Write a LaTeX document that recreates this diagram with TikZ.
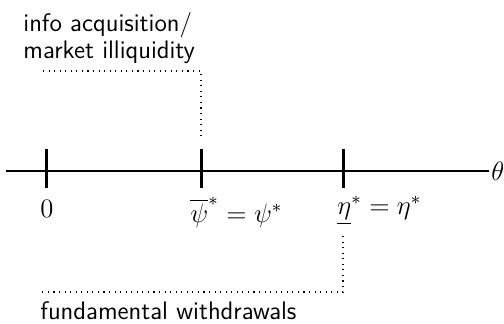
\documentclass[tikz,border=0pt]{standalone}
\usepackage{amsmath}
\begin{document}
\begin{tikzpicture}[x=0.45pt,y=-0.45pt,
  axisline/.style={line width=0.95pt},
  tickmark/.style={line width=1.35pt},
  guide/.style={dotted, line width=0.5pt},
  lbl/.style={font=\fontsize{11.4}{12.2}\selectfont\sffamily, inner sep=0pt, anchor=north west, align=left},
  ticklbl/.style={font=\fontsize{11.8}{14}\selectfont, inner sep=0pt, anchor=north west}]
\useasboundingbox (0,0) rectangle (504,323);
% axis
\coordinate (a0) at (6,171);
\coordinate (a1) at (489,171);
\draw[axisline] (a0) -- (a1) node[right, inner sep=0.6pt, font=\fontsize{11.8}{14}\selectfont] (theta) {$\theta$};
% ticks
\coordinate (t0top) at (46,149); \coordinate (t0bot) at (46,188);
\coordinate (t1top) at (201,149); \coordinate (t1bot) at (201,188);
\coordinate (t2top) at (343,149); \coordinate (t2bot) at (343,188);
\draw[tickmark] (t0top) -- (t0bot);
\draw[tickmark] (t1top) -- (t1bot);
\draw[tickmark] (t2top) -- (t2bot);
% tick labels
\node[ticklbl] (l0) at (40,200) {$0$};
\node[ticklbl] (l1) at (190,197) {$\overline{\psi}^{*}=\psi^{*}$};
\node[ticklbl] (l2) at (337,196) {$\underline{\eta}^{*}=\eta^{*}$};
% top annotation
\node[lbl] (info) at (23,12) {info acquisition/\\market illiquidity};
\coordinate (c1) at (43,71);
\coordinate (c2) at (201,71);
\coordinate (c3) at (201,136);
\draw[guide] (c1) -- (c2) -- (c3);
% bottom annotation
\coordinate (d1) at (343,236);
\coordinate (d2) at (343,292);
\coordinate (d3) at (42,292);
\draw[guide] (d1) -- (d2) -- (d3);
\node[lbl] (fund) at (40,301) {fundamental withdrawals};
\end{tikzpicture}
\end{document}
